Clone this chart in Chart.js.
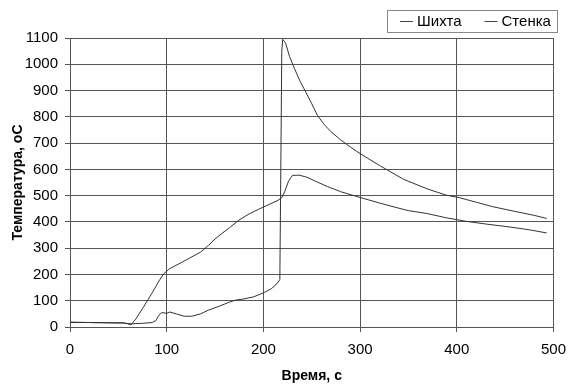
<!DOCTYPE html>
<html>
<head>
<meta charset="utf-8">
<script src="https://cdn.jsdelivr.net/npm/chart.js@4.4.1/dist/chart.umd.min.js"></script>
<style>
  html, body { margin: 0; padding: 0; background: #fff; }
  #wrap { position: relative; width: 575px; height: 385px; }
</style>
</head>
<body>
<div id="wrap"><canvas id="chart"></canvas></div>
<script>
// series names
const seriesNames = ['Шихта', 'Стенка'];

// Шихта: time (s) and temperature (oC)
const timeShikhta = [0, 20, 40, 55, 63, 75, 85, 89, 92, 95, 100, 103, 110, 118, 126, 135, 143, 155, 165, 171, 180, 190, 200, 208, 214, 217,
    218, 219, 220, 223, 227, 232, 238, 243, 250, 256, 263, 270, 280, 290, 300, 320, 345, 370, 389, 403, 420, 437, 460, 480, 493];
const tempShikhta = [18, 17, 16, 15, 12, 14, 17, 25, 45, 55, 52, 57, 50, 41, 41, 50, 64, 80, 95, 102, 107, 115, 130, 145, 165, 180,
    600, 1050, 1095, 1080, 1030, 985, 935, 900, 850, 805, 770, 743, 712, 685, 660, 615, 562, 525, 502, 492, 475, 458, 440, 425, 413];

// Стенка: time (s) and temperature (oC)
const timeStenka = [0, 20, 40, 55, 60, 63, 68, 75, 85, 92, 97, 103, 115, 125, 135, 143, 150, 157, 165, 174, 185, 195, 205, 215, 219,
    222, 226, 230, 237, 245, 255, 266, 280, 300, 320, 335, 350, 369, 390, 410, 430, 454, 475, 493];
const tempStenka = [18, 17, 16, 16, 12, 8, 30, 70, 130, 175, 203, 222, 245, 265, 285, 310, 335, 356, 378, 405, 430, 448, 465, 482, 492,
    515, 555, 577, 578, 570, 553, 535, 515, 493, 472, 457, 443, 432, 415, 402, 392, 381, 370, 358];

// axis ticks
const xTicks = [0, 100, 200, 300, 400, 500];
const yTicks = [0, 100, 200, 300, 400, 500, 600, 700, 800, 900, 1000, 1100];

function toPoints(xs, ys) {
    return xs.map((x, i) => ({ x: x, y: ys[i] }));
}

// framed legend in the top right corner
const boxLegend = {
    id: 'boxLegend',
    afterDraw(chart) {
        const ctx = chart.ctx;
        ctx.save();
        ctx.strokeStyle = '#888';
        ctx.lineWidth = 1;
        ctx.strokeRect(387.5, 10.5, 170, 22);
        ctx.font = '15px "Liberation Sans", Arial, sans-serif';
        ctx.fillStyle = '#000';
        ctx.textBaseline = 'middle';
        let x = 400;
        seriesNames.forEach(name => {
            ctx.beginPath();
            ctx.strokeStyle = '#444';
            ctx.moveTo(x, 21.5);
            ctx.lineTo(x + 13, 21.5);
            ctx.stroke();
            ctx.fillText(name, x + 17, 22);
            x += 17 + ctx.measureText(name).width + 23;
        });
        ctx.restore();
    }
};

const tickFont = { family: '"Liberation Sans", Arial, sans-serif', size: 15 };
const titleFont = { family: '"Liberation Sans", Arial, sans-serif', size: 14, weight: 'bold' };

new Chart(document.getElementById('chart'), {
    type: 'line',
    data: {
        datasets: [
            {
                label: seriesNames[0],
                data: toPoints(timeShikhta, tempShikhta),
                borderColor: '#333',
                borderWidth: 1,
                pointRadius: 0,
                tension: 0
            },
            {
                label: seriesNames[1],
                data: toPoints(timeStenka, tempStenka),
                borderColor: '#333',
                borderWidth: 1,
                pointRadius: 0,
                tension: 0
            }
        ]
    },
    options: {
        responsive: true,
        maintainAspectRatio: false,
        animation: false,
        layout: { padding: { left: 0, top: 38, right: 17, bottom: 0 } },
        plugins: {
            legend: { display: false },
            tooltip: { enabled: false }
        },
        scales: {
            x: {
                type: 'linear',
                min: 0,
                max: 500,
                afterBuildTicks: s => { s.ticks = xTicks.map(v => ({ value: v })); },
                afterFit: s => { s.height = 58; },
                grid: { color: '#555', tickLength: 5 },
                border: { color: '#555' },
                ticks: { color: '#000', font: tickFont, padding: 9, maxRotation: 0, callback: v => String(v) },
                title: { display: true, text: 'Время, с', color: '#000', font: titleFont, padding: { top: 0, bottom: 0 } }
            },
            y: {
                min: 0,
                max: 1100,
                afterBuildTicks: s => { s.ticks = yTicks.map(v => ({ value: v })); },
                afterFit: s => { s.width = 70; },
                grid: { color: '#555', tickLength: 5 },
                border: { color: '#555' },
                ticks: { color: '#000', font: tickFont, padding: 7, callback: v => String(v) },
                title: { display: true, text: 'Температура, оС', color: '#000', font: titleFont, padding: { top: 10, bottom: 0 } }
            }
        }
    },
    plugins: [boxLegend]
});
</script>
</body>
</html>
